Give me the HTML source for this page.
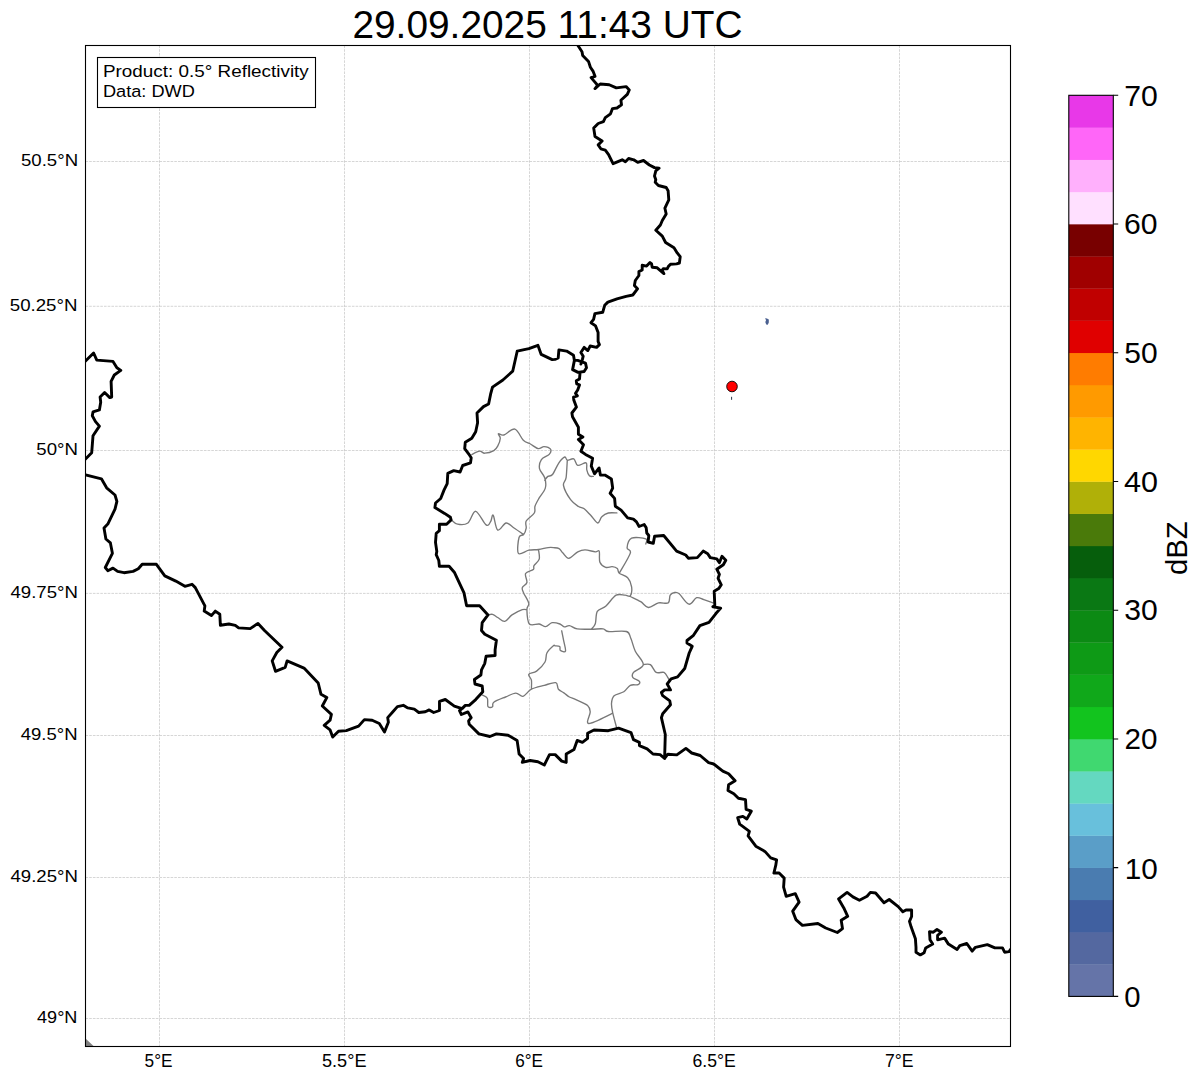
<!DOCTYPE html>
<html><head><meta charset="utf-8"><style>
html,body{margin:0;padding:0;background:#fff;}
body{width:1202px;height:1081px;overflow:hidden;}
svg{display:block;}
text{font-family:"Liberation Sans",sans-serif;fill:#000;}
</style></head><body>
<svg width="1202" height="1081" viewBox="0 0 1202 1081">
<rect width="1202" height="1081" fill="#fff"/>
<defs><clipPath id="mc"><rect x="85.5" y="45.5" width="925.0" height="1001.0"/></clipPath></defs>

<path d="M159.5 45.5V1046.5M344.5 45.5V1046.5M529.5 45.5V1046.5M714.5 45.5V1046.5M899.5 45.5V1046.5M85.5 161.5H1010.5M85.5 306.3H1010.5M85.5 450.5H1010.5M85.5 593.4H1010.5M85.5 735.5H1010.5M85.5 877.5H1010.5M85.5 1018.5H1010.5" stroke="#c4c4c4" stroke-width="0.7" stroke-dasharray="2.6 1.1" fill="none"/>
<g clip-path="url(#mc)">
<path d="M85.5 1038.5 L94 1046.5 L85.5 1046.5Z" fill="#808080"/>
<path d="M471.8,454.5C473.1,453.9 477.4,451.4 479.6,451.2C481.8,451.0 482.4,453.3 484.8,453.2C487.2,453.1 491.7,451.8 493.8,450.6C495.9,449.4 496.6,448.2 497.7,446.1C498.8,444.1 500.2,440.4 500.3,438.3C500.4,436.2 497.8,434.4 498.4,433.8C499.0,433.2 501.1,435.8 503.9,435.0C506.6,434.2 511.7,428.2 514.9,429.1C518.1,430.0 520.7,437.7 523.3,440.2C525.9,442.7 527.9,442.6 530.4,444.0C532.9,445.4 535.9,448.2 538.2,448.6C540.5,449.0 542.0,446.5 544.0,446.6C546.0,446.7 549.6,447.9 550.5,449.2C551.4,450.5 550.7,452.7 549.2,454.4C547.7,456.1 543.0,457.2 541.4,459.6C539.8,462.0 539.0,465.6 539.5,468.6C540.0,471.6 543.7,474.4 544.7,477.7C545.7,480.9 546.3,484.7 545.3,488.1C544.3,491.6 540.6,495.4 538.9,498.4C537.2,501.4 535.8,503.8 535.0,506.2C534.2,508.6 535.8,510.5 534.3,513.0C532.8,515.5 527.6,518.5 526.2,521.0C524.9,523.5 526.6,525.8 526.2,528.1C525.8,530.4 524.8,533.1 523.6,534.6C522.4,536.1 520.0,534.1 519.1,537.2C518.2,540.3 516.8,551.2 518.4,553.4C520.0,555.6 525.4,550.9 528.8,550.2C532.1,549.6 535.3,549.9 538.5,549.5C541.7,549.1 545.7,547.9 548.2,547.6C550.7,547.3 551.6,547.4 553.4,547.6C555.2,547.8 557.5,547.7 559.1,548.6C560.7,549.5 561.4,551.5 563.0,553.1C564.6,554.7 566.3,558.5 568.8,558.3C571.3,558.1 575.1,553.2 577.8,551.8C580.5,550.4 582.1,549.9 585.0,549.9C587.9,549.9 592.9,551.6 595.3,551.8C597.7,552.0 598.4,549.5 599.2,551.2C600.0,552.9 598.8,559.5 599.9,562.2C601.0,564.9 603.7,566.5 605.7,567.3C607.8,568.0 610.3,566.5 612.2,566.7C614.1,566.9 616.1,567.5 617.3,568.6C618.5,569.7 617.6,571.7 619.3,573.2C621.0,574.7 625.7,575.4 627.7,577.7C629.8,580.0 631.2,583.8 631.6,586.8C632.0,589.8 631.4,594.4 630.3,595.8C629.2,597.2 627.5,595.3 625.1,595.2C622.7,595.1 619.3,593.4 616.1,595.2C612.9,597.0 608.8,603.5 605.7,606.2C602.6,608.9 599.0,608.5 597.3,611.4C595.6,614.3 596.3,620.7 595.3,623.7C594.3,626.7 592.0,628.3 591.4,629.2M619.3,573.2C621.1,569.9 629.0,557.3 630.3,553.1C631.6,548.9 626.9,550.4 627.1,547.9C627.3,545.4 628.5,539.7 631.6,538.2C634.7,536.7 643.4,537.9 645.8,538.9C648.2,539.9 645.8,543.1 645.8,544.0M630.3,596.5C632.0,597.4 637.7,599.9 640.7,601.7C643.7,603.5 645.4,607.3 648.4,607.5C651.4,607.7 655.2,603.7 658.5,602.9C661.8,602.1 666.2,604.2 668.2,602.9C670.2,601.6 669.1,596.8 670.2,595.1C671.3,593.4 673.2,592.7 674.7,592.5C676.2,592.3 676.8,591.8 679.2,593.8C681.6,595.8 686.0,603.6 688.9,604.2C691.8,604.9 694.2,598.5 696.7,597.7C699.2,597.0 701.1,598.8 703.8,599.7C706.5,600.6 711.4,602.4 712.9,602.9M451.1,519.7C452.2,520.5 454.8,523.7 457.6,524.2C460.4,524.8 464.9,525.1 467.9,523.0C470.9,520.9 472.7,511.0 475.7,511.3C478.7,511.6 483.6,523.2 486.1,524.9C488.6,526.6 489.4,523.3 490.6,521.7C491.8,520.1 492.0,513.8 493.2,515.2C494.4,516.6 495.5,528.8 497.7,530.1C499.9,531.4 503.5,523.4 506.1,523.0C508.7,522.6 510.4,525.6 513.3,527.5C516.2,529.4 521.9,533.4 523.6,534.6M538.5,549.5C538.6,551.1 540.0,556.5 539.2,559.2C538.5,561.9 535.0,564.0 534.0,565.7C533.0,567.4 534.7,568.3 533.3,569.6C531.9,570.9 526.7,571.4 525.6,573.5C524.5,575.6 527.5,580.1 526.9,582.5C526.3,584.9 522.8,586.0 522.3,587.7C521.8,589.4 522.5,590.3 523.6,592.9C524.7,595.5 528.2,600.5 528.8,603.3C529.3,606.1 526.8,606.2 526.9,609.7C527.0,613.2 527.3,621.6 529.4,624.0C531.5,626.4 536.5,623.6 539.2,624.0C541.9,624.4 543.5,626.8 545.6,626.6C547.8,626.4 549.7,623.1 552.1,622.7C554.5,622.3 557.9,623.3 559.9,624.0C561.9,624.7 562.6,626.6 564.2,626.9C565.8,627.2 567.2,625.3 569.4,625.6C571.6,625.9 573.5,628.3 577.2,628.9C580.9,629.5 587.1,629.2 591.4,629.2C595.7,629.2 600.3,628.5 603.1,628.9C605.9,629.3 604.4,631.1 608.3,631.5C612.2,631.9 622.6,630.4 626.4,631.5C630.1,632.6 629.3,635.0 630.8,638.3C632.3,641.6 633.2,646.8 635.3,651.2C637.4,655.6 643.6,661.1 643.3,664.6C643.0,668.1 635.2,670.2 633.5,672.4C631.8,674.6 631.9,676.1 632.9,677.6C633.9,679.1 638.5,680.2 639.4,681.4C640.3,682.6 639.6,684.1 638.1,684.7C636.6,685.4 632.7,684.1 630.3,685.3C627.9,686.5 626.5,690.1 623.8,691.8C621.1,693.5 616.1,693.8 614.1,695.7C612.1,697.7 611.7,700.6 611.5,703.5C611.3,706.4 611.9,709.1 612.8,713.2C613.7,717.3 616.1,725.6 616.7,728.1M526.9,609.7C526.1,609.7 524.8,608.8 522.3,609.7C519.8,610.6 514.9,613.0 512.0,614.9C509.1,616.8 507.2,621.0 504.8,621.4C502.4,621.8 499.8,618.7 497.7,617.5C495.6,616.3 494.1,614.7 492.5,614.3C490.9,613.9 489.0,614.8 488.3,614.9M544.7,480.3C545.2,479.6 546.6,477.4 547.9,476.4C549.2,475.4 550.7,476.8 552.5,474.5C554.3,472.2 556.9,465.7 558.9,462.8C560.9,459.9 563.4,457.4 564.8,457.0C566.2,456.6 565.8,459.9 567.3,460.2C568.8,460.5 572.1,458.0 573.8,458.9C575.5,459.8 575.7,464.8 577.7,465.4C579.8,466.0 584.6,462.1 586.1,462.8C587.6,463.6 586.2,467.7 586.8,469.9C587.3,472.1 588.3,474.7 589.4,475.8C590.5,476.9 592.6,476.3 593.3,476.4M567.3,460.2C567.1,463.1 566.7,473.5 566.1,477.7C565.5,481.9 562.8,481.8 563.5,485.5C564.2,489.2 568.1,496.2 570.6,499.7C573.1,503.2 576.2,505.0 578.5,506.5C580.8,508.0 582.2,507.3 584.2,508.8C586.2,510.3 588.4,512.9 590.7,515.3C593.0,517.7 595.9,522.8 597.8,523.0C599.6,523.2 600.0,518.5 601.8,516.8C603.5,515.1 605.8,513.6 608.3,513.0C610.8,512.4 615.5,512.9 616.9,512.9M643.3,664.6C644.5,664.6 648.2,663.3 650.4,664.6C652.5,665.9 653.9,671.1 656.2,672.4C658.5,673.7 662.0,671.5 664.0,672.4C666.0,673.3 667.0,676.3 667.9,677.6C668.8,678.9 669.0,679.8 669.2,680.2M561.7,630.8C562.0,632.3 562.9,636.5 563.5,639.9C564.1,643.3 566.0,649.2 565.5,651.0C565.0,652.8 561.4,651.1 560.4,650.4C559.4,649.6 560.6,647.3 559.7,646.5C558.8,645.7 556.2,645.9 555.2,645.8C554.2,645.7 554.8,644.6 553.4,645.8C552.0,647.0 548.3,650.3 546.9,653.0C545.5,655.7 546.7,659.0 545.0,662.0C543.3,665.0 539.3,669.1 536.6,671.1C533.9,673.1 529.7,672.8 528.8,674.3C527.9,675.8 531.0,677.7 531.4,680.2C531.8,682.7 531.4,687.7 531.4,689.2M612.8,713.2C608.8,714.9 592.7,723.7 588.9,723.5C585.1,723.3 590.4,714.9 590.2,711.9C590.0,708.9 590.0,707.4 587.6,705.4C585.2,703.4 578.9,701.0 575.9,699.6C572.9,698.2 571.3,698.1 569.4,697.0C567.5,695.9 566.0,694.4 564.2,693.1C562.4,691.8 559.8,690.9 558.4,689.2C557.0,687.5 558.1,683.4 555.8,682.7C553.4,682.1 548.4,684.2 544.3,685.3C540.2,686.4 534.9,687.4 531.4,689.2C527.9,691.0 525.6,695.6 523.0,696.3C520.4,696.9 518.7,693.0 515.8,693.1C512.9,693.2 509.2,695.5 505.5,697.0C501.8,698.5 496.0,700.6 493.8,702.2C491.6,703.8 493.5,706.0 492.5,706.7C491.5,707.5 488.9,708.1 488.0,706.7C487.1,705.3 488.3,700.2 487.3,698.3C486.3,696.3 483.1,695.5 482.2,695.0" stroke="#787878" stroke-width="1.35" fill="none" stroke-linejoin="round" stroke-linecap="round"/>
<path d="M578.1,45.8 L582.0,51.7 L582.7,55.5 L588.5,61.4 L590.4,67.2 L593.0,71.1 L595.0,76.3 L591.1,77.6 L594.3,81.4 L597.6,85.3 L595.0,88.6 L600.2,84.0 L609.2,84.7 L616.3,87.9 L626.1,86.6 L629.3,89.9 L627.3,94.4 L620.9,100.2 L621.5,104.8 L617.0,108.0 L612.5,108.6 L610.5,113.8 L605.3,117.7 L603.4,121.6 L598.2,123.5 L593.7,128.1 L595.0,136.5 L602.1,141.0 L598.2,144.9 L600.8,148.8 L605.3,150.1 L608.6,154.6 L611.8,161.1 L613.1,163.7 L622.2,159.8 L625.4,161.7 L628.6,158.5 L633.8,159.8 L637.7,162.4 L643.5,160.5 L649.4,165.0 L654.5,167.6 L659.1,168.2 L655.8,170.8 L654.5,176.0 L655.8,179.7 L655.2,182.3 L658.4,185.5 L666.2,187.5 L668.1,190.7 L668.8,199.8 L664.9,208.2 L666.2,214.0 L662.3,220.5 L660.4,225.0 L655.8,230.2 L662.3,236.1 L665.6,242.5 L674.0,247.7 L677.2,252.9 L680.2,256.7 L679.4,263.0 L676.6,263.9 L670.5,264.2 L668.3,266.6 L667.2,268.9 L663.3,268.6 L662.2,270.3 L663.9,273.6 L657.2,267.8 L652.2,267.2 L651.6,263.9 L650.0,262.5 L646.6,266.1 L642.2,265.3 L642.2,270.0 L638.9,271.6 L638.9,275.5 L635.3,280.5 L634.4,285.5 L637.5,288.8 L632.8,295.0 L626.1,296.3 L617.0,298.9 L607.9,302.1 L604.7,305.3 L603.4,309.9 L602.7,312.3 L594.9,313.6 L593.6,319.4 L591.0,322.7 L595.6,325.9 L598.1,332.4 L598.1,341.4 L599.4,344.6 L596.6,347.4 L590.2,346.0 L587.8,350.6 L584.1,347.4 L580.9,352.5 L583.2,356.2 L582.3,359.9 L580.9,364.1M574.4,360.4 L572.6,369.6 L578.1,372.4 L584.1,371.5 L586.5,367.8 L585.5,363.1 L577.7,360.4 L574.4,360.4M580.0,373.3 L579.5,378.9 L576.3,380.7 L576.7,383.9 L579.5,384.9 L577.7,390.0 L575.5,393.3 L577.4,395.8 L573.5,397.1 L573.8,400.0 L576.4,407.1 L571.9,413.0 L572.5,416.8 L578.4,427.2 L578.4,434.3 L582.9,436.9 L578.4,439.5 L583.5,444.7 L580.9,451.2 L585.5,454.4 L592.6,458.3 L591.3,466.1 L594.5,473.8 L599.1,468.0 L600.4,475.1 L604.9,475.1 L611.4,479.0 L612.7,488.1 L610.1,493.3 L614.6,498.4 L615.3,506.2 L621.1,510.1 L627.6,517.9 L633.4,519.2 L636.5,521.9 L639.1,526.5 L644.2,524.5 L646.2,527.8 L646.8,533.0 L648.8,535.5 L648.1,542.0 L653.3,543.3 L654.6,536.2 L663.7,535.5 L676.6,551.1 L685.7,555.0 L688.3,558.2 L697.3,557.6 L703.2,551.1 L707.7,553.7 L710.3,557.6 L716.8,558.9 L719.4,562.7 L722.0,556.3 L725.8,560.2 L723.3,564.7 L716.8,569.2 L719.4,574.4 L718.1,578.3 L721.3,584.8 L718.7,588.6 L714.2,591.2 L714.8,605.5 L712.9,606.8 L720.7,608.1 L716.1,613.3 L709.0,622.3 L699.9,625.6 L693.5,635.3 L687.0,640.5 L687.0,643.0 L692.2,646.3 L689.2,653.0 L684.7,668.5 L677.6,676.9 L671.1,678.9 L667.2,684.0 L670.5,689.9 L664.6,689.9 L661.4,692.5 L662.7,695.7 L669.8,700.9 L670.5,704.8 L662.7,713.8 L661.4,717.7 L665.3,734.5 L664.6,758.5 L667.8,754.2 L676.8,754.9 L685.9,748.4 L691.7,753.0 L700.2,755.5 L708.6,762.7 L713.7,764.0 L722.8,771.1 L728.6,773.7 L735.1,780.8 L728.6,784.7 L728.0,790.5 L733.8,793.7 L738.4,798.3 L745.5,799.6 L746.1,809.3 L751.3,811.2 L746.8,819.0 L742.9,816.4 L737.7,817.7 L739.7,824.2 L749.4,831.3 L748.1,835.8 L755.8,846.2 L764.9,851.4 L770.7,857.9 L776.6,859.8 L775.8,865.2 L773.9,873.0 L779.1,873.0 L784.2,878.1 L783.6,887.2 L786.2,896.3 L795.3,893.7 L799.1,902.1 L792.7,911.2 L795.9,919.6 L802.4,925.4 L817.9,923.5 L825.7,928.0 L837.3,932.5 L842.5,928.6 L841.2,920.2 L847.7,916.3 L843.8,907.9 L838.6,898.9 L847.1,892.4 L852.9,896.9 L859.4,900.2 L867.1,896.3 L870.4,892.4 L875.6,893.0 L884.0,902.7 L889.2,899.5 L898.2,906.6 L902.8,911.8 L906.0,909.9 L911.6,910.0 L911.6,916.5 L909.5,921.4 L911.1,926.8 L915.4,938.7 L916.0,947.3 L916.0,952.2 L920.3,954.9 L924.1,952.7 L925.7,947.9 L932.7,944.1 L930.0,939.8 L929.5,931.6 L933.3,932.2 L937.0,929.5 L941.4,932.2 L937.6,935.4 L937.6,939.8 L944.6,938.1 L948.4,944.1 L957.1,949.5 L959.8,945.7 L966.8,943.5 L972.2,951.1 L975.4,947.3 L987.3,944.6 L994.9,947.9 L1002.5,947.9 L1004.6,952.2 L1009.0,951.6 L1011.0,948.9M574.4,360.4 L573.5,355.3 L566.6,351.1 L558.9,349.9 L558.2,358.0 L555.0,359.4 L552.2,359.6 L541.2,354.4 L537.9,345.3 L528.9,348.6 L517.2,351.2 L512.7,371.2 L502.9,380.0 L492.5,387.1 L490.6,394.2 L488.6,404.0 L483.5,406.6 L477.0,413.0 L477.6,422.7 L475.7,431.8 L471.8,438.3 L465.3,442.2 L464.7,448.6 L468.6,453.8 L471.2,457.7 L470.5,462.9 L462.7,465.5 L460.1,472.0 L453.7,470.7 L447.8,473.3 L447.2,483.6 L444.0,490.1 L440.7,498.5 L435.5,503.0 L434.9,507.6 L444.6,513.4 L450.4,517.3 L451.1,519.9 L446.6,524.2 L439.4,524.2 L439.4,530.7 L436.2,533.3 L435.5,542.4 L436.8,551.4 L436.2,554.7 L438.8,560.5 L439.4,566.3 L449.1,566.3 L454.3,572.2 L464.0,592.9 L466.6,605.8 L474.4,605.8 L479.6,605.8 L488.0,614.9 L482.2,622.7 L481.5,630.5 L484.8,634.3 L496.4,640.2 L495.1,649.9 L495.1,655.5 L486.1,656.2 L484.8,663.3 L481.5,669.8 L480.9,675.0 L474.4,679.5 L475.0,684.0 L482.2,686.0 L482.8,691.8 L475.7,699.6 L469.2,705.4 L465.3,705.4 L462.1,708.6 L459.5,710.6 L461.4,714.5 L467.9,711.9 L471.2,717.7 L468.6,720.9 L469.2,724.2 L478.9,733.9 L489.9,736.5 L496.4,733.9 L508.1,735.2 L517.1,740.4 L519.1,754.0 L523.6,758.5 L522.3,762.4 L530.1,760.5 L537.9,761.7 L544.3,765.0 L549.5,754.6 L555.2,754.6 L561.7,761.1 L566.2,762.4 L566.2,754.0 L574.0,749.4 L577.2,740.4 L582.4,742.3 L587.6,738.4 L587.6,733.3 L594.0,730.0 L608.3,730.7 L618.6,728.1 L631.0,732.6 L633.5,739.7 L639.4,742.3 L639.4,745.6 L647.1,748.8 L653.0,754.0 L660.1,754.6 L664.6,758.5M84.0,474.5 L101.4,478.8 L106.6,487.8 L115.0,495.0 L116.9,501.4 L115.0,509.2 L107.8,524.1 L104.0,528.0 L105.9,539.0 L110.4,542.9 L112.4,553.3 L105.3,567.5 L107.8,570.7 L113.0,568.1 L117.6,571.4 L124.0,572.7 L133.1,571.4 L138.3,568.8 L142.2,564.3 L156.4,564.3 L164.8,575.9 L175.8,581.1 L184.9,586.3 L192.0,584.3 L195.3,587.6 L204.9,605.9 L204.2,611.1 L211.4,615.6 L215.3,611.1 L219.8,614.3 L220.4,625.3 L228.9,624.0 L235.3,625.3 L238.6,627.9 L250.2,628.6 L258.0,623.4 L264.5,630.5 L282.0,647.3 L276.8,652.5 L272.2,660.9 L275.5,671.3 L285.2,667.4 L287.1,660.9 L304.0,668.1 L318.2,683.0 L321.0,694.3 L326.8,697.6 L322.3,706.0 L331.4,714.4 L330.1,720.2 L324.2,725.4 L330.1,729.9 L332.7,737.1 L338.5,731.2 L346.3,730.6 L358.6,726.1 L364.4,719.6 L372.2,720.2 L379.3,723.5 L384.5,731.9 L388.4,722.2 L387.7,717.6 L392.9,711.8 L397.4,706.6 L403.3,705.3 L407.8,707.9 L414.3,709.2 L418.8,712.5 L425.3,711.8 L429.2,709.9 L433.7,712.5 L439.5,710.5 L439.5,701.4 L445.3,699.5 L454.3,706.1 L462.1,708.6M84.0,362.5 L93.6,353.0 L96.8,360.1 L113.0,361.4 L116.9,367.8 L120.8,370.4 L114.3,375.0 L111.1,381.4 L111.7,397.0 L109.8,397.6 L104.6,392.5 L100.1,397.0 L100.7,402.2 L99.4,409.9 L93.0,411.9 L92.3,415.8 L95.5,421.6 L99.4,426.1 L93.0,435.8 L91.7,452.7 L84.0,460.5" stroke="#000" stroke-width="2.9" fill="none" stroke-linejoin="round" stroke-linecap="round"/>
<circle cx="732" cy="386.5" r="5.3" fill="#ff0000" stroke="#000" stroke-width="0.9"/>
<rect x="731" y="396.8" width="1.1" height="3" fill="#3c4a5a"/>
<path d="M765.2 318 L767.5 318.8 L768.8 319.5 L768.8 322.5 L767.8 324.8 L766.2 324.5 L765.3 322 L766 320.5Z" fill="#4a6090"/>
</g>
<rect x="85.5" y="45.5" width="925.0" height="1001.0" fill="none" stroke="#000" stroke-width="1.1"/>
<rect x="97.5" y="57.5" width="218" height="50" fill="#fff" stroke="#000" stroke-width="1.1"/>
<text x="352.40" y="38.30" font-size="38.66" textLength="390.18" lengthAdjust="spacingAndGlyphs">29.09.2025 11:43 UTC</text>
<text x="21.04" y="166.00" font-size="17.03" textLength="57.05" lengthAdjust="spacingAndGlyphs">50.5°N</text>
<text x="9.77" y="310.60" font-size="17.03" textLength="67.71" lengthAdjust="spacingAndGlyphs">50.25°N</text>
<text x="36.34" y="455.00" font-size="17.03" textLength="41.64" lengthAdjust="spacingAndGlyphs">50°N</text>
<text x="10.48" y="598.30" font-size="17.03" textLength="67.48" lengthAdjust="spacingAndGlyphs">49.75°N</text>
<text x="20.75" y="740.00" font-size="17.03" textLength="56.82" lengthAdjust="spacingAndGlyphs">49.5°N</text>
<text x="10.48" y="882.00" font-size="17.03" textLength="67.48" lengthAdjust="spacingAndGlyphs">49.25°N</text>
<text x="37.05" y="1023.00" font-size="17.03" textLength="40.39" lengthAdjust="spacingAndGlyphs">49°N</text>
<text x="144.61" y="1066.60" font-size="17.55" textLength="28.02" lengthAdjust="spacingAndGlyphs">5°E</text>
<text x="321.97" y="1066.60" font-size="17.55" textLength="44.50" lengthAdjust="spacingAndGlyphs">5.5°E</text>
<text x="515.16" y="1066.60" font-size="17.55" textLength="27.79" lengthAdjust="spacingAndGlyphs">6°E</text>
<text x="692.51" y="1066.60" font-size="17.55" textLength="43.26" lengthAdjust="spacingAndGlyphs">6.5°E</text>
<text x="884.90" y="1066.60" font-size="17.55" textLength="28.57" lengthAdjust="spacingAndGlyphs">7°E</text>
<text x="103.00" y="76.80" font-size="17.20" textLength="205.77" lengthAdjust="spacingAndGlyphs">Product: 0.5° Reflectivity</text>
<text x="103.00" y="97.30" font-size="16.99" textLength="91.87" lengthAdjust="spacingAndGlyphs">Data: DWD</text>
<text x="1124.18" y="1006.60" font-size="29.21" textLength="16.30" lengthAdjust="spacingAndGlyphs">0</text>
<text x="1124.63" y="878.50" font-size="29.21" textLength="33.07" lengthAdjust="spacingAndGlyphs">10</text>
<text x="1124.64" y="749.40" font-size="29.21" textLength="32.96" lengthAdjust="spacingAndGlyphs">20</text>
<text x="1124.19" y="620.30" font-size="29.21" textLength="33.51" lengthAdjust="spacingAndGlyphs">30</text>
<text x="1123.92" y="492.20" font-size="29.21" textLength="33.97" lengthAdjust="spacingAndGlyphs">40</text>
<text x="1124.33" y="363.10" font-size="29.21" textLength="33.38" lengthAdjust="spacingAndGlyphs">50</text>
<text x="1123.94" y="234.00" font-size="29.21" textLength="33.56" lengthAdjust="spacingAndGlyphs">60</text>
<text x="1124.30" y="105.90" font-size="29.21" textLength="33.58" lengthAdjust="spacingAndGlyphs">70</text>
<text transform="translate(1187.00,575.00) rotate(-90)" font-size="29.73" textLength="53.71" lengthAdjust="spacingAndGlyphs">dBZ</text>
<rect x="1068.8" y="964.22" width="44.50" height="32.48" fill="#6574a8"/>
<rect x="1068.8" y="932.04" width="44.50" height="32.48" fill="#5468a0"/>
<rect x="1068.8" y="899.85" width="44.50" height="32.48" fill="#4060a0"/>
<rect x="1068.8" y="867.67" width="44.50" height="32.48" fill="#4a7cb0"/>
<rect x="1068.8" y="835.49" width="44.50" height="32.48" fill="#5a9ec8"/>
<rect x="1068.8" y="803.31" width="44.50" height="32.48" fill="#68c0dc"/>
<rect x="1068.8" y="771.12" width="44.50" height="32.48" fill="#64d8c0"/>
<rect x="1068.8" y="738.94" width="44.50" height="32.48" fill="#40d870"/>
<rect x="1068.8" y="706.76" width="44.50" height="32.48" fill="#12c41e"/>
<rect x="1068.8" y="674.58" width="44.50" height="32.48" fill="#10a81a"/>
<rect x="1068.8" y="642.40" width="44.50" height="32.48" fill="#0e9a16"/>
<rect x="1068.8" y="610.21" width="44.50" height="32.48" fill="#0c8a14"/>
<rect x="1068.8" y="578.03" width="44.50" height="32.48" fill="#0a7814"/>
<rect x="1068.8" y="545.85" width="44.50" height="32.48" fill="#065e0c"/>
<rect x="1068.8" y="513.67" width="44.50" height="32.48" fill="#4a7a0a"/>
<rect x="1068.8" y="481.49" width="44.50" height="32.48" fill="#b0b008"/>
<rect x="1068.8" y="449.30" width="44.50" height="32.48" fill="#ffd700"/>
<rect x="1068.8" y="417.12" width="44.50" height="32.48" fill="#ffb400"/>
<rect x="1068.8" y="384.94" width="44.50" height="32.48" fill="#ff9a00"/>
<rect x="1068.8" y="352.76" width="44.50" height="32.48" fill="#ff7c00"/>
<rect x="1068.8" y="320.57" width="44.50" height="32.48" fill="#e00000"/>
<rect x="1068.8" y="288.39" width="44.50" height="32.48" fill="#c00000"/>
<rect x="1068.8" y="256.21" width="44.50" height="32.48" fill="#a00000"/>
<rect x="1068.8" y="224.03" width="44.50" height="32.48" fill="#780000"/>
<rect x="1068.8" y="191.85" width="44.50" height="32.48" fill="#ffe0ff"/>
<rect x="1068.8" y="159.66" width="44.50" height="32.48" fill="#ffb0fc"/>
<rect x="1068.8" y="127.48" width="44.50" height="32.48" fill="#ff66f8"/>
<rect x="1068.8" y="95.30" width="44.50" height="32.48" fill="#e838e8"/>
<rect x="1068.8" y="95.3" width="44.50" height="901.10" fill="none" stroke="#000" stroke-width="1.1"/>
<path d="M1113.3 996.40H1118.2M1113.3 867.67H1118.2M1113.3 738.94H1118.2M1113.3 610.21H1118.2M1113.3 481.49H1118.2M1113.3 352.76H1118.2M1113.3 224.03H1118.2M1113.3 95.30H1118.2" stroke="#000" stroke-width="1.1"/>
</svg></body></html>
